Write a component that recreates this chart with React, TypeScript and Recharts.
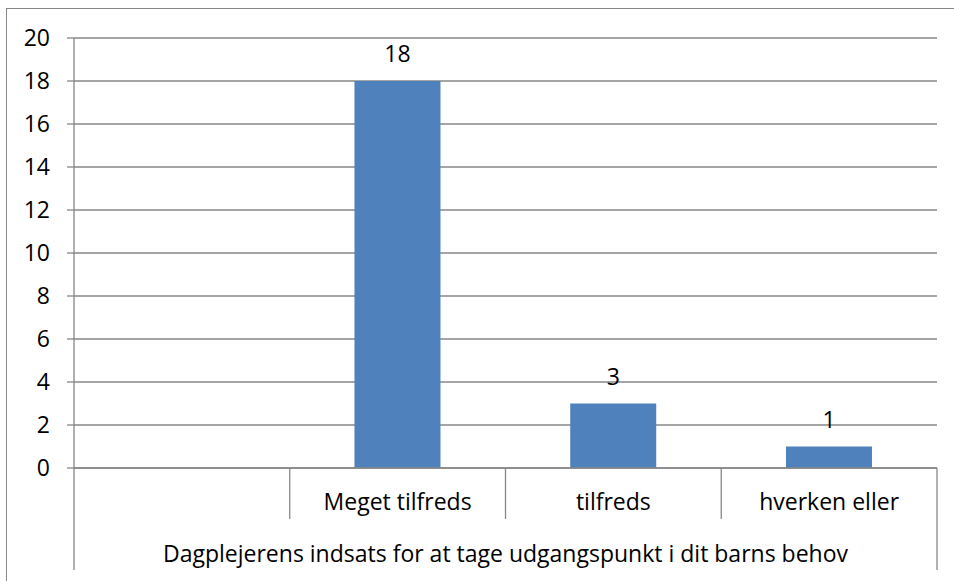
import { BarChart, Bar, XAxis, YAxis, CartesianGrid, LabelList } from "recharts";

const categories = ["", "Meget tilfreds", "tilfreds", "hverken eller"];
const counts: (number | null)[] = [null, 18, 3, 1];
const yTicks = [0, 2, 4, 6, 8, 10, 12, 14, 16, 18, 20];
const groupLabel = "Dagplejerens indsats for at tage udgangspunkt i dit barns behov";

const data = categories.map((name, i) => ({ name, value: counts[i] }));

const FONT = "'Open Sans', 'Noto Sans', sans-serif";
const FS = 23;
const LINE = "#878787";
const BAR = "#4F81BD";
const W = 954;
const H = 581;
const PLOT_W = 937 - 74;

function CategoryTick(props: any) {
  const { x, y, payload } = props;
  const half = payload?.offset || PLOT_W / categories.length / 2;
  const i = payload?.index ?? props.index ?? 0;
  const last = i === categories.length - 1;
  return (
    <g>
      <line x1={x + half} x2={x + half} y1={y} y2={y + (last ? 102 : 51)} stroke={LINE} strokeWidth={1.3} />
      {i === 0 && (
        <>
          <line x1={x - half} x2={x - half} y1={y} y2={y + 102} stroke={LINE} strokeWidth={1.3} />
          <text
            x={x - half + categories.length * half}
            y={y + 94}
            textAnchor="middle"
            fontFamily={FONT}
            fontSize={FS}
            fill="#000"
          >
            {groupLabel}
          </text>
        </>
      )}
      <text x={x} y={y + 42} textAnchor="middle" fontFamily={FONT} fontSize={FS} fill="#000">
        {payload.value}
      </text>
    </g>
  );
}

export default function App() {
  return (
    <div style={{ position: "absolute", left: 0, top: 0, width: W, height: H, overflow: "hidden", background: "#fff" }}>
      <div
        style={{
          position: "absolute",
          left: 6,
          top: 8,
          width: 980,
          height: 600,
          borderTop: `1px solid ${LINE}`,
          borderLeft: `1px solid ${LINE}`,
        }}
      />
      <div style={{ position: "absolute", left: 0, top: 0 }}>
        <BarChart
          width={W}
          height={H}
          data={data}
          margin={{ top: 38, right: 17, left: 0, bottom: 0 }}
          barCategoryGap="30%"
        >
          <CartesianGrid vertical={false} stroke={LINE} strokeWidth={1.3} />
          <XAxis
            dataKey="name"
            height={113}
            interval={0}
            tickLine={false}
            tickSize={0}
            tickMargin={0}
            axisLine={{ stroke: LINE, strokeWidth: 1.3 }}
            tick={<CategoryTick />}
          />
          <YAxis
            width={74}
            domain={[0, 20]}
            ticks={yTicks}
            interval={0}
            tickSize={7}
            tickMargin={17}
            tickLine={{ stroke: LINE, strokeWidth: 1.3 }}
            axisLine={{ stroke: LINE, strokeWidth: 1.3 }}
            tick={{ fill: "#000", fontSize: FS, fontFamily: FONT }}
          />
          <Bar dataKey="value" fill={BAR} isAnimationActive={false}>
            <LabelList
              dataKey="value"
              position="top"
              offset={19}
              fill="#000"
              fontSize={FS}
              fontFamily={FONT}
              formatter={(v: any) => (v == null ? "" : v)}
            />
          </Bar>
        </BarChart>
      </div>
    </div>
  );
}
